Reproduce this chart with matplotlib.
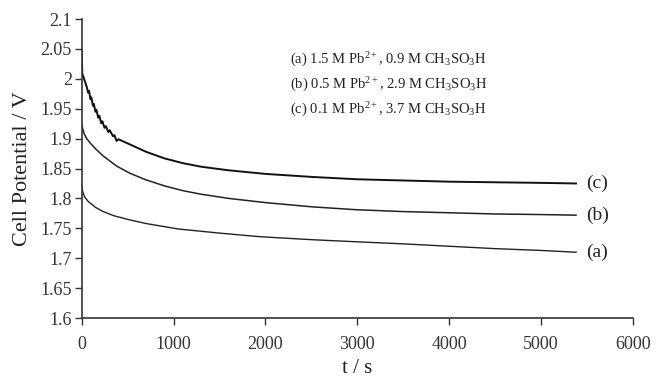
import matplotlib
matplotlib.use("Agg")
import matplotlib.pyplot as plt

# -------------------------------
# Data
# -------------------------------
t_a = [0, 10, 30, 70, 150, 234, 350, 526, 700, 1045, 1500, 1938, 2500, 2918,
       3500, 4000, 4500, 5000, 5380]
v_a = [1.822, 1.812, 1.803, 1.795, 1.785, 1.778, 1.771, 1.764, 1.758, 1.749,
       1.742, 1.736, 1.731, 1.728, 1.724, 1.720, 1.716, 1.713, 1.710]

t_b = [0, 10, 25, 50, 90, 150, 234, 381, 526, 700, 900, 1100, 1300, 1600,
       2000, 2500, 3000, 3500, 4000, 4500, 5000, 5380]
v_b = [1.924, 1.917, 1.909, 1.901, 1.893, 1.883, 1.871, 1.854, 1.842, 1.831,
       1.821, 1.813, 1.807, 1.800, 1.793, 1.786, 1.781, 1.778, 1.776, 1.774,
       1.773, 1.772]

# (c) has a saw-tooth descent over the first ~400 s
t_c = [0, 6, 54, 70, 80, 95, 105, 122, 132, 150, 160, 180, 192, 212, 225,
       248, 262, 290, 305, 340, 355, 380, 400, 500, 700, 900, 1100, 1300,
       1600, 2000, 2500, 3000, 3500, 4000, 4500, 5000, 5380]
v_c = [2.048, 2.009, 1.987, 1.977, 1.980, 1.966, 1.969, 1.955, 1.958, 1.945,
       1.948, 1.935, 1.938, 1.926, 1.929, 1.918, 1.921, 1.911, 1.914, 1.904,
       1.906, 1.896, 1.899, 1.892, 1.878, 1.867, 1.859, 1.853, 1.847, 1.841,
       1.836, 1.832, 1.830, 1.828, 1.827, 1.826, 1.825]

curve_labels = ["(a)", "(b)", "(c)"]
legend_lines = [
    r"(a) 1.5 M Pb$^{2+}$, 0.9 M CH$_3$SO$_3$H",
    r"(b) 0.5 M Pb$^{2+}$, 2.9 M CH$_3$SO$_3$H",
    r"(c) 0.1 M Pb$^{2+}$, 3.7 M CH$_3$SO$_3$H",
]
y_ticks = [1.6, 1.65, 1.7, 1.75, 1.8, 1.85, 1.9, 1.95, 2.0, 2.05, 2.1]
y_ticklabels = ["1.6", "1.65", "1.7", "1.75", "1.8", "1.85", "1.9", "1.95",
                "2", "2.05", "2.1"]
x_ticks = [0, 1000, 2000, 3000, 4000, 5000, 6000]

# -------------------------------
# Style
# -------------------------------
plt.rcParams["font.family"] = ["Liberation Serif", "DejaVu Serif"]
plt.rcParams["mathtext.fontset"] = "custom"
plt.rcParams["mathtext.rm"] = "Liberation Serif"
plt.rcParams["mathtext.it"] = "Liberation Serif:italic"
plt.rcParams["mathtext.bf"] = "Liberation Serif:bold"

fig = plt.figure(figsize=(6.67, 3.82), dpi=100)
ax = fig.add_axes([0.1225, 0.1675, 0.8265, 0.7827])

ax.plot(t_a, v_a, color="#222222", lw=1.0)
ax.plot(t_b, v_b, color="#222222", lw=1.1)
ax.plot(t_c, v_c, color="#111111", lw=1.4)

# curve labels at the right end of each line
for lab, tt, vv in [(curve_labels[0], t_a, v_a), (curve_labels[1], t_b, v_b),
                    (curve_labels[2], t_c, v_c)]:
    ax.text(tt[-1] + 110, vv[-1], lab, fontsize=14, va="center", ha="left",
            color="#222222")

# composition key
for i, line in enumerate(legend_lines):
    ax.text(0.377, 0.863 - i * 0.0835, line, transform=ax.transAxes,
            fontsize=10.5, va="center", ha="left", color="#222222")

ax.set_xlim(0, 6000)
ax.set_ylim(1.6, 2.1)
ax.set_xticks(x_ticks)
ax.set_yticks(y_ticks)
ax.set_yticklabels(y_ticklabels)
ax.tick_params(axis="both", direction="out", length=5, width=1.0,
               labelsize=13, colors="#333333")
ax.tick_params(axis="x", pad=8)
ax.tick_params(axis="y", pad=2)

for side in ["top", "right"]:
    ax.spines[side].set_visible(False)
for side in ["left", "bottom"]:
    ax.spines[side].set_linewidth(1.2)
    ax.spines[side].set_color("#333333")

ax.set_xlabel("t / s", fontsize=15, color="#222222", labelpad=4)
ax.set_ylabel("Cell Potential / V", fontsize=16, color="#222222", labelpad=6)

fig.savefig("out.png", dpi=100)
